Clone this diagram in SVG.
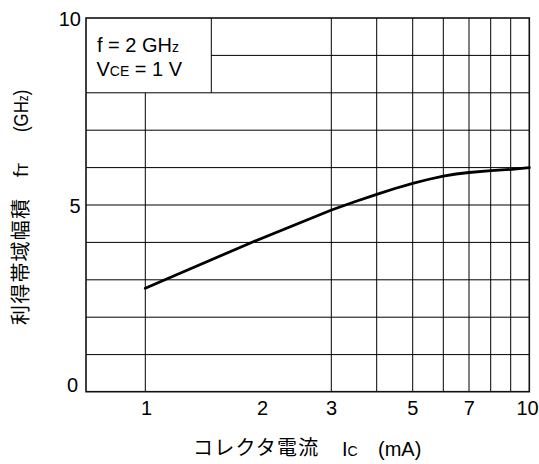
<svg xmlns="http://www.w3.org/2000/svg" width="539" height="464" viewBox="0 0 539 464">
<style>
.grid{stroke:#000;stroke-width:1;fill:none}
.frame{stroke:#111;stroke-width:1.6;fill:none}
.curve{stroke:#000;stroke-width:2.8;fill:none;stroke-linejoin:round;stroke-linecap:round}
.lat{font-family:"Liberation Sans",Arial,sans-serif;font-size:20px;fill:#000}
.cjk{font-family:"Noto Sans CJK JP","Noto Sans CJK SC",sans-serif;font-size:20px;fill:#000;letter-spacing:1.2px}
.sm{font-size:14px}
.tick{text-anchor:middle}
.yt{text-anchor:end}
</style>
<rect width="539" height="464" fill="#fff"/>
<g id="grid">
<path class="grid" d="M211 55.4H529.3M86 92.8H529.3M86 130.2H529.3M86 167.6H529.3M86 205H529.3M86 242.4H529.3M86 279.8H529.3M86 317.2H529.3M86 354.6H529.3"/>
<path class="grid" d="M145.3 92.8V391.7M211.3 18V92.8M331.3 18V391.7M376.7 18V391.7M412.7 18V391.7M443.3 18V391.7M469 18V391.7M490.7 18V391.7M510.7 18V391.7"/>
<rect class="frame" x="86" y="18" width="443.3" height="373.7"/>
</g>
<g id="legend">
<text class="lat" x="97" y="52">f = 2 GH<tspan class="sm">z</tspan></text>
<text class="lat" x="96.5" y="76">V<tspan class="sm">CE</tspan> = 1 V</text>
</g>
<g id="y-ticks">
<text class="lat yt" x="81" y="26">10</text>
<text class="lat yt" x="80.5" y="213">5</text>
<text class="lat yt" x="78" y="392">0</text>
</g>
<g id="x-ticks">
<text class="lat tick" x="146.5" y="415">1</text>
<text class="lat tick" x="262.5" y="415">2</text>
<text class="lat tick" x="331.5" y="415">3</text>
<text class="lat tick" x="412.7" y="415">5</text>
<text class="lat tick" x="469.3" y="415">7</text>
<text class="lat tick" x="527.5" y="415">10</text>
</g>
<g id="curve">
<polyline class="curve" points="145.3,288.3 166.7,279 253.3,241.7 331.5,210 354,202 376.7,194.3 395,188.5 412.7,183.3 428,179.5 443.3,176.2 456,174 469,172.5 491,170.7 511.7,169.3 529.3,167.7"/>
</g>
<g id="x-label">
<text class="cjk" x="193" y="455">コレクタ電流</text>
<text class="lat" x="342" y="456">I<tspan class="sm">C</tspan></text>
<text class="lat" x="378" y="456">(mA)</text>
</g>
<g id="y-label">
<text class="cjk" transform="translate(27.5,325) rotate(-90)" letter-spacing="1.3">利得帯域幅積</text>
<text class="lat" transform="translate(27.5,177) rotate(-90)">f<tspan class="sm">T</tspan></text>
<text class="lat" transform="translate(27.5,132) rotate(-90) scale(0.84,1)">(GH<tspan class="sm">z</tspan>)</text>
</g>
</svg>
